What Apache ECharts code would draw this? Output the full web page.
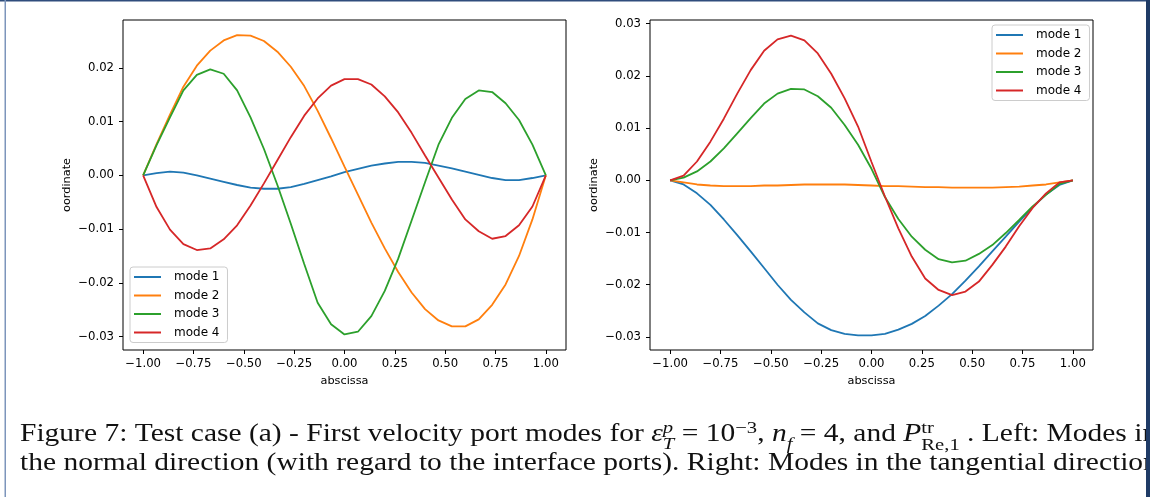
<!DOCTYPE html>
<html>
<head>
<meta charset="utf-8">
<script src="https://cdn.jsdelivr.net/npm/echarts@6.0.0/dist/echarts.min.js"></script>
<style>
  html, body { margin: 0; padding: 0; background: #fff; }
  #chart { width: 1150px; height: 497px; }
</style>
</head>
<body>
<div id="chart"></div>
<script>
// abscissa grid shared by both panels (31 nodes)
const xs = [-1, -0.9333, -0.8667, -0.8, -0.7333, -0.6667, -0.6, -0.5333, -0.4667, -0.4,
  -0.3333, -0.2667, -0.2, -0.1333, -0.0667, 0, 0.0667, 0.1333, 0.2, 0.2667,
  0.3333, 0.4, 0.4667, 0.5333, 0.6, 0.6667, 0.7333, 0.8, 0.8667, 0.9333, 1];

const modeNames = ["mode 1", "mode 2", "mode 3", "mode 4"];
const xTicks = [-1, -0.75, -0.5, -0.25, 0, 0.25, 0.5, 0.75, 1];
const yTicksLeft = [-0.03, -0.02, -0.01, 0, 0.01, 0.02];
const yTicksRight = [-0.03, -0.02, -0.01, 0, 0.01, 0.02, 0.03];

// left panel: normal direction
const normalMode1 = [0, 0.0004, 0.0007, 0.0005, 0.0000, -0.0006, -0.0012, -0.0018, -0.0023, -0.0025,
  -0.0025, -0.0022, -0.0016, -0.0009, -0.0002, 0.0006, 0.0012, 0.0018, 0.0022, 0.0025,
  0.0025, 0.0023, 0.0018, 0.0013, 0.0007, 0.0001, -0.0005, -0.0009, -0.0009, -0.0005, 0];
const normalMode2 = [0, 0.0058, 0.0113, 0.0165, 0.0204, 0.0232, 0.0251, 0.0261, 0.0260, 0.0250,
  0.0230, 0.0202, 0.0166, 0.0120, 0.0069, 0.0016, -0.0036, -0.0088, -0.0136, -0.0180,
  -0.0218, -0.0249, -0.0270, -0.0281, -0.0281, -0.0268, -0.0241, -0.0203, -0.0150, -0.0082, 0];
const normalMode3 = [0, 0.0056, 0.0108, 0.0158, 0.0187, 0.0197, 0.0189, 0.0158, 0.0108, 0.0049,
  -0.0018, -0.0090, -0.0165, -0.0237, -0.0277, -0.0296, -0.0291, -0.0262, -0.0215, -0.0155,
  -0.0084, -0.0013, 0.0057, 0.0107, 0.0142, 0.0158, 0.0155, 0.0134, 0.0103, 0.0057, 0];
const normalMode4 = [0, -0.0059, -0.0101, -0.0128, -0.0139, -0.0136, -0.0119, -0.0093, -0.0056, -0.0015,
  0.0028, 0.0071, 0.0111, 0.0143, 0.0167, 0.0179, 0.0179, 0.0169, 0.0147, 0.0117,
  0.0079, 0.0037, -0.0004, -0.0045, -0.0082, -0.0104, -0.0118, -0.0113, -0.0093, -0.0058, 0];

// right panel: tangential direction
const tangMode1 = [0, -0.0008, -0.0025, -0.0047, -0.0075, -0.0105, -0.0136, -0.0168, -0.0200, -0.0229,
  -0.0253, -0.0274, -0.0287, -0.0294, -0.0297, -0.0297, -0.0294, -0.0286, -0.0275, -0.0260,
  -0.0240, -0.0218, -0.0192, -0.0165, -0.0136, -0.0108, -0.0079, -0.0052, -0.0027, -0.0009, 0];
const tangMode2 = [0, -0.0004, -0.0008, -0.0010, -0.0011, -0.0011, -0.0011, -0.0010, -0.0010, -0.0009,
  -0.0008, -0.0008, -0.0008, -0.0008, -0.0009, -0.0010, -0.0011, -0.0011, -0.0012, -0.0013,
  -0.0013, -0.0014, -0.0014, -0.0014, -0.0014, -0.0013, -0.0012, -0.0010, -0.0008, -0.0004, 0];
const tangMode3 = [0, 0.0005, 0.0017, 0.0036, 0.0061, 0.0090, 0.0119, 0.0147, 0.0166, 0.0175,
  0.0174, 0.0161, 0.0139, 0.0106, 0.0068, 0.0022, -0.0032, -0.0074, -0.0108, -0.0133,
  -0.0151, -0.0157, -0.0154, -0.0141, -0.0124, -0.0101, -0.0076, -0.0050, -0.0028, -0.0007, 0];
const tangMode4 = [0, 0.0009, 0.0036, 0.0074, 0.0118, 0.0166, 0.0211, 0.0248, 0.0270, 0.0277,
  0.0268, 0.0243, 0.0204, 0.0157, 0.0103, 0.0035, -0.0031, -0.0092, -0.0146, -0.0188,
  -0.0210, -0.0220, -0.0213, -0.0194, -0.0162, -0.0127, -0.0088, -0.0053, -0.0025, -0.0004, 0];

const palette = ["#1f77b4", "#ff7f0e", "#2ca02c", "#d62728"];
const axisFont = "DejaVu Sans";
const tickSize = 11.7;

function toPairs(ys) {
  return xs.map((x, i) => [x, ys[i]]);
}

function fmt(v) {
  const s = Math.abs(v).toFixed(2);
  return v < -1e-9 ? "\u2212" + s : s;
}

function makeX(gridIndex) {
  return {
    gridIndex,
    type: "value",
    min: -1.1,
    max: 1.1,
    name: "abscissa",
    nameLocation: "middle",
    nameGap: 26,
    nameTextStyle: { fontFamily: axisFont, fontSize: 11.3, color: "#000" },
    axisLine: { show: false, onZero: false },
    splitLine: { show: false },
    axisTick: { customValues: xTicks, length: 4, lineStyle: { color: "#000", width: 1 } },
    axisLabel: { customValues: xTicks, formatter: fmt, margin: 8, fontFamily: axisFont, fontSize: tickSize, color: "#000" },
  };
}

function makeY(gridIndex, min, max, ticks) {
  return {
    gridIndex,
    type: "value",
    min,
    max,
    name: "oordinate",
    nameLocation: "middle",
    nameGap: 50,
    nameRotate: 90,
    nameTextStyle: { fontFamily: axisFont, fontSize: 11.3, color: "#000" },
    axisLine: { show: false, onZero: false },
    splitLine: { show: false },
    axisTick: { customValues: ticks, length: 4, lineStyle: { color: "#000", width: 1 } },
    axisLabel: { customValues: ticks, formatter: fmt, margin: 9, fontFamily: axisFont, fontSize: tickSize, color: "#000" },
  };
}

function makeLegend(left, top) {
  return {
    orient: "vertical",
    left,
    top,
    data: modeNames,
    icon: "rect",
    itemWidth: 27,
    itemHeight: 2,
    itemGap: 6.5,
    padding: [4, 8, 4, 4],
    backgroundColor: "rgba(255,255,255,0.8)",
    borderColor: "#cccccc",
    borderWidth: 1,
    borderRadius: 3,
    selectedMode: false,
    textStyle: { fontFamily: axisFont, fontSize: 12, color: "#000", padding: [0, 0, 0, 8] },
  };
}

const leftSets = [normalMode1, normalMode2, normalMode3, normalMode4];
const rightSets = [tangMode1, tangMode2, tangMode3, tangMode4];

const series = [];
[leftSets, rightSets].forEach((sets, g) => {
  sets.forEach((ys, k) => {
    series.push({
      name: modeNames[k],
      type: "line",
      xAxisIndex: g,
      yAxisIndex: g,
      data: toPairs(ys),
      showSymbol: false,
      symbol: "none",
      smooth: false,
      animation: false,
      lineStyle: { width: 1.8, color: palette[k] },
      itemStyle: { color: palette[k] },
      z: 2 + k,
    });
  });
});

// caption, laid out segment by segment so sub/superscripts can stack
const capFamily = "Liberation Serif";
const capSize = 25;
const capStretch = 1.18; // widen Times-like glyphs toward Computer Modern proportions
const capLine1 = [
  { t: "Figure 7: Test case (a) - First velocity port modes for " },
  { t: "\u03b5", it: true },
  { t: "p", it: true, s: 0.7, dy: -10 },
  { t: "T", it: true, s: 0.7, dy: 6, stack: true },
  { t: " = 10" },
  { t: "\u22123", s: 0.7, dy: -10 },
  { t: ", " },
  { t: "n", it: true },
  { t: "f", it: true, s: 0.7, dy: 6 },
  { t: " = 4, and " },
  { t: "P", it: true },
  { t: "tr", s: 0.7, dy: -10 },
  { t: "Re,1", s: 0.7, dy: 7, stack: true },
  { t: " . Left: Modes in" },
];
const capLine2 = [
  { t: "the normal direction (with regard to the interface ports). Right: Modes in the tangential direction" },
];

const measureCtx = document.createElement("canvas").getContext("2d");
function capFont(seg) {
  const size = Math.round(capSize * (seg.s || 1) * 10) / 10;
  return (seg.it ? "italic " : "") + size + "px \"" + capFamily + "\"";
}
function layoutLine(segs, x0, baseline) {
  const out = [];
  let x = x0;
  let prevX = x0;
  segs.forEach((seg) => {
    measureCtx.font = capFont(seg);
    const w = measureCtx.measureText(seg.t).width * capStretch;
    const sx = seg.stack ? prevX : x;
    out.push({
      type: "text",
      x: sx,
      y: baseline + (seg.dy || 0),
      scaleX: capStretch,
      z: 10,
      style: { text: seg.t, font: capFont(seg), fill: "#111", verticalAlign: "bottom", align: "left" },
    });
    x = Math.max(x, sx + w);
    prevX = sx;
  });
  return out;
}

const captionEls = [].concat(layoutLine(capLine1, 20, 447), layoutLine(capLine2, 20, 476));

const frameEls = [
  { type: "rect", shape: { x: 0, y: 0, width: 1150, height: 1.5 }, style: { fill: "#2f4d7c" }, z: 20 },
  { type: "rect", shape: { x: 4.5, y: 0, width: 1.5, height: 497 }, style: { fill: "#7d95bb" }, z: 20 },
  { type: "rect", shape: { x: 1146, y: 0, width: 4, height: 497 }, style: { fill: "#1f3b66" }, z: 20 },
];

const chart = echarts.init(document.getElementById("chart"), null, { renderer: "canvas" });
chart.setOption({
  backgroundColor: "#fff",
  animation: false,
  color: palette,
  grid: [
    { left: 123, top: 20, width: 443, height: 330, show: true, borderColor: "#000", borderWidth: 1, backgroundColor: "#fff" },
    { left: 650, top: 20, width: 443, height: 330, show: true, borderColor: "#000", borderWidth: 1, backgroundColor: "#fff" },
  ],
  xAxis: [makeX(0), makeX(1)],
  yAxis: [makeY(0, -0.0325, 0.0289, yTicksLeft), makeY(1, -0.0325, 0.0307, yTicksRight)],
  legend: [makeLegend(130, 267), makeLegend(992, 25)],
  series,
  graphic: { elements: captionEls.concat(frameEls) },
});
</script>
</body>
</html>
